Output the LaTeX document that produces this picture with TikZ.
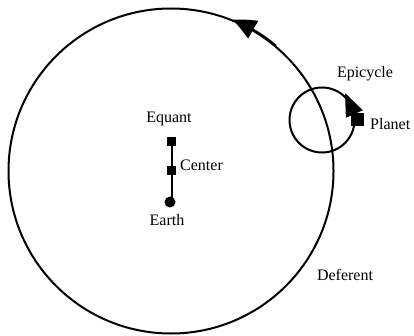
\documentclass[tikz,border=0pt]{standalone}
\usepackage{fontspec}
\setmainfont{Liberation Serif}
\usetikzlibrary{arrows.meta,bending}
\tikzset{
  orbit/.style={draw=black,line width=2pt},
  sqmark/.style={fill=black,inner sep=0pt,minimum size=9pt},
  lbl/.style={font=\fontsize{16}{19}\selectfont,inner sep=0pt,anchor=base},
}

\begin{document}
\begin{tikzpicture}[x=1pt,y=1pt]
\useasboundingbox (0,0) rectangle (414,335);
% deferent and epicycle
\node[orbit,circle,minimum size=325pt,inner sep=0pt] (deferent) at (171,164){};
\node[orbit,circle,minimum size=65pt,inner sep=0pt] (epicycle) at (322,215){};
% direction of motion
\draw[orbit,-{Triangle[length=23pt,width=20pt,bend]}] (deferent.50) arc[start angle=50,end angle=68,radius=162.5];
% equant, center, earth
\node[sqmark] (equant) at (171.5,194){};
\node[sqmark] (center) at (171.5,165){};
\node[circle,fill=black,inner sep=0pt,minimum size=11pt] (earth) at (170,133){};
\draw[line width=2pt] (equant.center) -- (equant.center |- earth.center);
% planet on the epicycle
\node[sqmark,minimum size=13pt] (planet) at (357,215){};
\coordinate (epitip) at (345,242);
\draw[orbit,-{Triangle[length=23pt,width=18pt]}] (planet.center) -- (epitip);
% labels
\node[lbl] (equantlbl) at (169,212){Equant};
\node[lbl,anchor=base west] (centerlbl) at (180,165){Center};
\node[lbl] (earthlbl) at (167,110){Earth};
\node[lbl] (epicyclelbl) at (365,257){Epicycle};
\node[lbl,anchor=base west] (planetlbl) at (370,205){Planet};
\node[lbl] (deferentlbl) at (345,55){Deferent};
\end{tikzpicture}
\end{document}
